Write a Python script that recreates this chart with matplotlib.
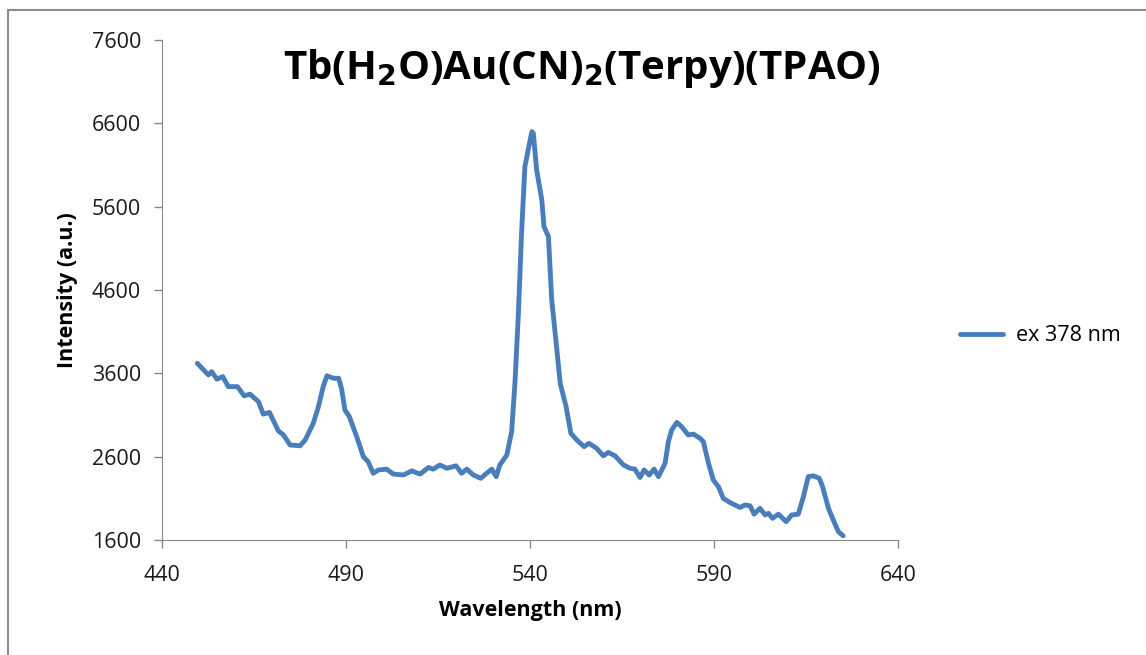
import matplotlib
matplotlib.use('Agg')
import matplotlib.pyplot as plt
from matplotlib.patches import Rectangle

# Wavelength (nm) e intensidade
wavelength = [449.6, 452.6, 453.5, 454.9, 456.5, 458.0, 460.5, 462.3, 463.9, 466.2,
              467.5, 469.2, 471.6, 473.0, 474.8, 477.5, 478.9, 481.1, 482.5, 483.8,
              484.8, 486.6, 488.0, 488.8, 489.7, 490.9, 492.9, 494.7, 496.0, 497.4,
              498.8, 501.0, 502.9, 505.6, 507.9, 510.1, 512.4, 513.7, 515.5, 517.4,
              519.9, 521.4, 522.8, 524.6, 526.6, 528.2, 529.6, 530.8, 531.8, 533.7,
              535.0, 535.9, 536.8, 537.7, 538.6, 539.5, 540.5, 540.9, 541.8, 543.2,
              543.8, 545.0, 545.9, 547.3, 548.2, 549.8, 551.1, 552.7, 554.7, 556.0,
              558.1, 559.9, 561.3, 563.1, 565.4, 567.2, 568.5, 569.9, 571.0, 572.4,
              573.7, 574.9, 576.7, 577.6, 578.5, 579.9, 581.2, 583.0, 584.4, 586.2,
              587.1, 588.5, 589.8, 591.2, 592.5, 594.3, 595.7, 597.1, 598.4, 599.8,
              600.9, 602.5, 603.9, 604.8, 605.9, 607.5, 609.6, 611.1, 612.9, 614.3,
              615.6, 617.0, 618.6, 619.5, 621.1, 622.4, 623.8, 625.1]
intensity = [3720, 3580, 3620, 3530, 3560, 3440, 3440, 3330, 3350, 3260,
             3110, 3130, 2910, 2860, 2740, 2730, 2800, 3000, 3200, 3440,
             3570, 3540, 3540, 3410, 3160, 3080, 2840, 2600, 2540, 2400,
             2440, 2450, 2390, 2380, 2430, 2390, 2470, 2450, 2500, 2460,
             2490, 2400, 2450, 2380, 2340, 2400, 2450, 2360, 2500, 2620,
             2900, 3480, 4280, 5280, 6080, 6280, 6500, 6480, 6040, 5680,
             5360, 5240, 4480, 3880, 3480, 3200, 2880, 2800, 2720, 2760,
             2700, 2610, 2650, 2610, 2500, 2460, 2450, 2350, 2440, 2380,
             2450, 2360, 2520, 2780, 2920, 3010, 2960, 2860, 2870, 2820,
             2780, 2520, 2320, 2240, 2100, 2050, 2020, 1990, 2020, 2010,
             1910, 1980, 1900, 1920, 1860, 1910, 1820, 1900, 1910, 2120,
             2360, 2370, 2340, 2240, 1980, 1840, 1700, 1650]

xticks = [440, 490, 540, 590, 640]
yticks = [1600, 2600, 3600, 4600, 5600, 6600, 7600]

plt.rcParams['font.family'] = ['Open Sans', 'DejaVu Sans']

fig = plt.figure(figsize=(11.46, 6.55), dpi=100)
ax = fig.add_axes([0.1414, 0.1756, 0.6422, 0.7634])

ax.plot(wavelength, intensity, color='#4a7ebb', linewidth=3.5, label='ex 378 nm',
        solid_joinstyle='round', solid_capstyle='round')

ax.set_xlim(440, 640)
ax.set_ylim(1600, 7600)
ax.set_xticks(xticks)
ax.set_yticks(yticks)
ax.tick_params(colors='#888888', labelcolor='#1a1a1a', labelsize=15.5, length=6, width=1)
ax.tick_params(axis='y', pad=9)
ax.tick_params(axis='x', pad=12)
for s in ['top', 'right']:
    ax.spines[s].set_visible(False)
for s in ['left', 'bottom']:
    ax.spines[s].set_color('#888888')

ax.set_xlabel('Wavelength (nm)', fontsize=15.5, fontweight='bold', labelpad=10)
ax.set_ylabel('Intensity (a.u.)', fontsize=15.5, fontweight='bold', labelpad=10)

fig.text(0.508, 0.895, r'Tb(H$_\mathbf{2}$O)Au(CN)$_\mathbf{2}$(Terpy)(TPAO)',
         ha='center', va='center', fontsize=29, fontweight='bold')

ax.legend(loc='center left', bbox_to_anchor=(1.084, 0.408), frameon=False,
          fontsize=15.5, handlelength=2.0, handletextpad=0.6,
          borderpad=0, borderaxespad=0)

# moldura externa estilo Excel
fig.patches.append(Rectangle((8 / 1146, -0.1), 1.2, (655 - 10) / 655 + 0.1,
                             transform=fig.transFigure, fill=False,
                             edgecolor='#8c8c8c', linewidth=1.5))

fig.savefig('out.png', dpi=100)
